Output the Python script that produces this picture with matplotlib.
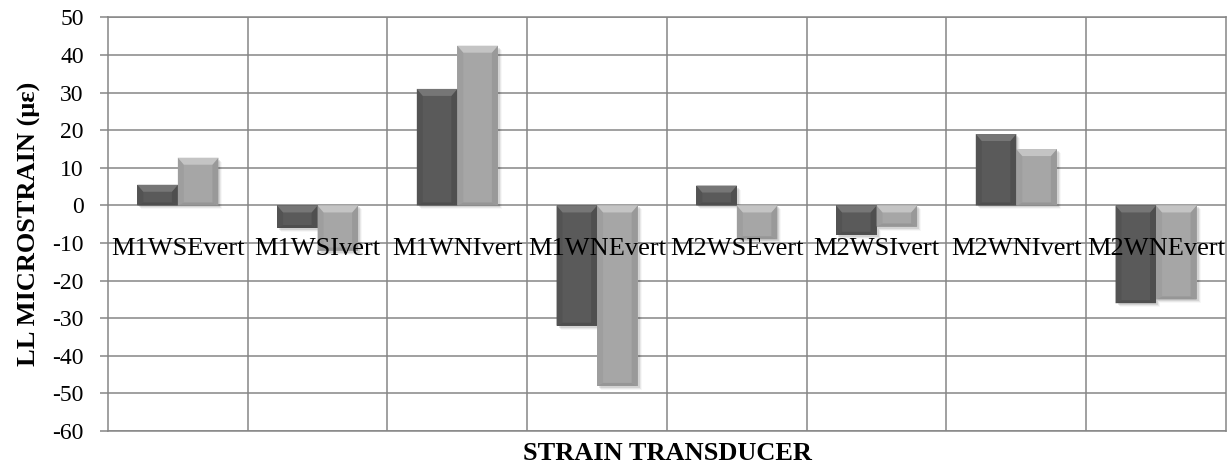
import numpy as np
import matplotlib.pyplot as plt
from matplotlib.patches import Polygon, Rectangle

plt.rcParams['font.family'] = ['Liberation Serif', 'DejaVu Serif']

# values (microstrain)
categories = ['M1WSEvert', 'M1WSIvert', 'M1WNIvert', 'M1WNEvert',
              'M2WSEvert', 'M2WSIvert', 'M2WNIvert', 'M2WNEvert']
series_dark = [5.5, -6.0, 31.0, -32.0, 5.3, -7.8, 19.0, -26.0]
series_light = [12.7, -12.0, 42.5, -48.0, -9.0, -5.6, 15.0, -25.0]
y_ticks = list(range(-60, 51, 10))

grid_col = '#868686'
face = {'dark': '#5a5a5a', 'light': '#a6a6a6'}
top_col = {'dark': '#767676', 'light': '#c4c4c4'}
bot_col = {'dark': '#4e4e4e', 'light': '#969696'}
left_col = {'dark': '#535353', 'light': '#9e9e9e'}
right_col = {'dark': '#4f4f4f', 'light': '#999999'}

fig = plt.figure(figsize=(12.3, 4.65), dpi=100)
ax = fig.add_axes([0.0878, 0.0731, 0.9089, 0.8893])
n = len(categories)
ax.set_xlim(-0.5, n - 0.5)
ax.set_ylim(-60, 50)

# pixel scale, used to keep the bevel square on screen
bb = ax.get_window_extent()
px_x = bb.width / n
px_y = bb.height / 110.0

width = 0.29
x = np.arange(n)


def bevel_bar(xc, val, kind):
    x0, x1 = xc - width / 2, xc + width / 2
    lo, hi = min(0, val), max(0, val)
    h = hi - lo
    bx = 6.0 / px_x
    bt = min(7.0 / px_y, h / 2.5)
    bb_ = min(3.0 / px_y, h / 5)
    # soft shadow
    for k, a in enumerate([0.09, 0.06, 0.03]):
        off = (k + 2) / px_x
        offy = (k + 2) / px_y
        ax.add_patch(Rectangle((x0 + off, lo - offy), width, h, color='black',
                               alpha=a, lw=0, zorder=2))
    ax.bar(xc, val, width=width, color=face[kind], lw=0, zorder=3)
    # bevel faces
    ax.add_patch(Polygon([(x0, lo), (x0 + bx, lo + bb_), (x0 + bx, hi - bt), (x0, hi)],
                         closed=True, color=left_col[kind], lw=0, zorder=4))
    ax.add_patch(Polygon([(x1, lo), (x1 - bx, lo + bb_), (x1 - bx, hi - bt), (x1, hi)],
                         closed=True, color=right_col[kind], lw=0, zorder=4))
    ax.add_patch(Polygon([(x0, lo), (x1, lo), (x1 - bx, lo + bb_), (x0 + bx, lo + bb_)],
                         closed=True, color=bot_col[kind], lw=0, zorder=4))
    ax.add_patch(Polygon([(x0, hi), (x1, hi), (x1 - bx, hi - bt), (x0 + bx, hi - bt)],
                         closed=True, color=top_col[kind], lw=0, zorder=4))


for i in range(n):
    bevel_bar(x[i] - width / 2, series_dark[i], 'dark')
    bevel_bar(x[i] + width / 2, series_light[i], 'light')

# grid
ax.set_yticks(y_ticks)
ax.set_yticklabels([str(t) for t in y_ticks], fontsize=17)
ax.set_xticks(np.arange(0.5, n - 0.5, 1.0))
ax.set_xticklabels([])
ax.tick_params(axis='x', length=0)
ax.tick_params(axis='y', direction='out', length=5.5, width=1.1, color=grid_col, pad=12)
ax.grid(True, color=grid_col, lw=1.1, zorder=1)
ax.set_axisbelow(True)
for s in ax.spines.values():
    s.set_color(grid_col)
    s.set_linewidth(1.1)

# category labels sit just under the zero line
for i, lab in enumerate(categories):
    ax.annotate(lab, (x[i], 0), xytext=(0, -35.6), textcoords='offset points',
                ha='center', va='baseline', fontsize=19, zorder=6)

ax.set_ylabel('LL MICROSTRAIN (με)', fontsize=19, fontweight='bold', labelpad=8)
fig.text(0.5423, 1 - 460 / 465, 'STRAIN TRANSDUCER', ha='center', va='baseline',
         fontsize=19, fontweight='bold')

fig.savefig('out.png', dpi=100)
